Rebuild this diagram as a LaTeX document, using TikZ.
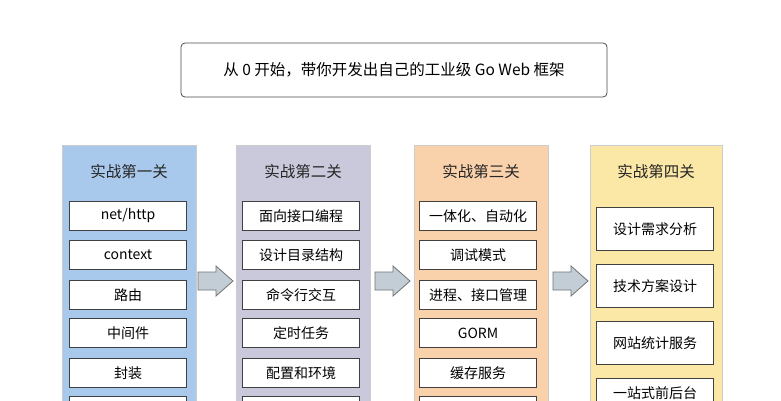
\documentclass[tikz,border=0pt]{standalone}
\usepackage{fontspec}
\setmainfont{Noto Sans CJK SC}
\definecolor{cA}{HTML}{A9C9EC}
\definecolor{cB}{HTML}{C9C9DB}
\definecolor{cC}{HTML}{F9D2AC}
\definecolor{cD}{HTML}{FBE7A6}
\definecolor{arr}{HTML}{C2CDD6}
\tikzset{
 col/.style={draw=gray!40,line width=0.5pt,minimum width=134pt,minimum height=290pt,anchor=north,inner sep=0pt},
 item/.style={draw=black!75,line width=1pt,fill=white,minimum width=117pt,minimum height=29pt,anchor=north,inner sep=0pt,font=\fontsize{14}{16}\selectfont},
 itemD/.style={item,minimum height=43pt},
 hdr/.style={font=\fontsize{15.5}{18}\selectfont,text=black!85},
 bigarr/.style={draw=black!55,fill=arr,line width=0.8pt,line join=miter}
}
\newcommand{\blockarrow}[2]{%
 \draw[bigarr] (#1,#2-9) -- (#1+18,#2-9) -- (#1+18,#2-15) -- (#1+35,#2) -- (#1+18,#2+15) -- (#1+18,#2+9) -- (#1,#2+9) -- cycle;}
\begin{document}
\begin{tikzpicture}[x=1pt,y=-1pt]
\useasboundingbox (0,0) rectangle (781,400);
\clip (0,0) rectangle (781,400);
\fill[white] (0,0) rectangle (781,400);
\node[draw=black!70,line width=0.8pt,rounded corners=4pt,minimum width=426pt,minimum height=54pt,font=\fontsize{15.5}{18}\selectfont] (title) at (394,70) {从 0 开始，带你开发出自己的工业级 Go Web 框架};
% columns
\node[col,fill=cA] (c1) at (129,145) {};
\node[col,fill=cB] (c2) at (303,145) {};
\node[col,fill=cC] (c3) at (481,145) {};
\node[col,fill=cD,minimum width=132pt] (c4) at (656,145) {};
\node[hdr] (h1) at (129,172) {实战第一关};
\node[hdr] (h2) at (303,172) {实战第二关};
\node[hdr] (h3) at (481,172) {实战第三关};
\node[hdr] (h4) at (656,172) {实战第四关};
% col1
\node[item] (a1) at (128,201) {net/http};
\node[item] (a2) at (128,240) {context};
\node[item] (a3) at (128,280) {路由};
\node[item] (a4) at (128,318) {中间件};
\node[item] (a5) at (128,358) {封装};
\node[item] (a6) at (128,396) {};
% col2
\node[item] (b1) at (301,201) {面向接口编程};
\node[item] (b2) at (301,240) {设计目录结构};
\node[item] (b3) at (301,280) {命令行交互};
\node[item] (b4) at (301,318) {定时任务};
\node[item] (b5) at (301,358) {配置和环境};
\node[item] (b6) at (301,396) {};
% col3
\node[item] (d1) at (478,201) {一体化、自动化};
\node[item] (d2) at (478,240) {调试模式};
\node[item] (d3) at (478,280) {进程、接口管理};
\node[item] (d4) at (478,318) {GORM};
\node[item] (d5) at (478,358) {缓存服务};
\node[item] (d6) at (478,396) {};
% col4
\node[itemD] (e1) at (655,207) {设计需求分析};
\node[itemD] (e2) at (655,264) {技术方案设计};
\node[itemD] (e3) at (655,321) {网站统计服务};
\node[itemD,text depth=0pt] (e4) at (655,378) {\raisebox{14pt}{一站式前后台}};
% arrows
\blockarrow{198}{281}
\blockarrow{375}{281}
\blockarrow{553}{281}
\end{tikzpicture}
\end{document}
